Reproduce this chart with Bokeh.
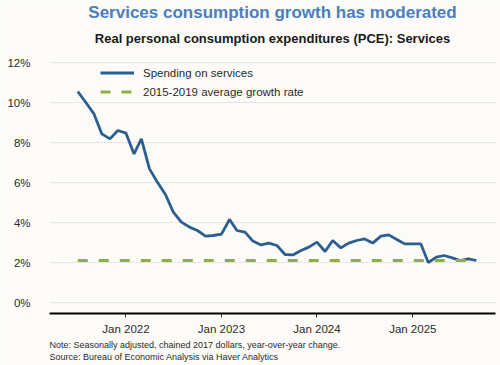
import pandas as pd
from bokeh.plotting import figure
from bokeh.models import (Range1d, FixedTicker, DatetimeTickFormatter, PrintfTickFormatter,
                          Title, Legend, LegendItem, ColumnDataSource)
from bokeh.embed import file_html
from bokeh.resources import INLINE

# ---------------- data ----------------
start_month = "2021-07-01"
services_growth = [
    10.55, 10.0, 9.43, 8.43, 8.18, 8.6,                       # 2021 Jul-Dec
    8.47, 7.43, 8.18, 6.68, 6.02, 5.4, 4.52, 4.02, 3.77, 3.6, 3.32, 3.35,   # 2022
    3.42, 4.15, 3.6, 3.52, 3.07, 2.88, 2.97, 2.85, 2.4, 2.38, 2.6, 2.77,    # 2023
    3.02, 2.55, 3.1, 2.73, 2.97, 3.1, 3.18, 2.97, 3.32, 3.38, 3.15, 2.93,   # 2024
    2.93, 2.93, 2.0, 2.27, 2.35, 2.23, 2.1, 2.18, 2.1,                     # 2025 Jan-Sep
]
avg_2015_2019 = 2.1
tick_dates = ["2022-01-01", "2023-01-01", "2024-01-01", "2025-01-01"]
y_ticks = [0, 2, 4, 6, 8, 10, 12]

title_text = "Services consumption growth has moderated"
subtitle_text = "Real personal consumption expenditures (PCE): Services"
note_lines = ["Note: Seasonally adjusted, chained 2017 dollars, year-over-year change.",
              "Source: Bureau of Economic Analysis via Haver Analytics"]
series_label = "Spending on services"
avg_label = "2015-2019 average growth rate"

dates = pd.date_range(start_month, periods=len(services_growth), freq="MS")
src = ColumnDataSource(dict(date=dates, value=services_growth,
                            avg=[avg_2015_2019] * len(services_growth)))

# ---------------- styling ----------------
BG = "#fcfbf7"
FONT = "Liberation Sans"
BLUE = "#2c5e8f"
GREEN = "#8cb043"
TITLE_BLUE = "#4a7ebd"
TXT = "#2a2a2a"

p = figure(width=500, height=365, output_backend="svg", toolbar_location=None,
           x_axis_type="datetime",
           x_range=Range1d(pd.Timestamp("2021-03-15"), pd.Timestamp("2025-11-13")),
           y_range=Range1d(-0.55, 12.1),
           min_border_left=49, min_border_right=5, min_border_top=60, min_border_bottom=52,
           background_fill_color=BG, border_fill_color=BG)
p.outline_line_color = None

r_line = p.line("date", "value", source=src, line_color=BLUE, line_width=2.8)
r_avg = p.line("date", "avg", source=src, line_color=GREEN, line_width=3, line_dash="10 11")

# axes
xa = p.xaxis[0]
xa.ticker = FixedTicker(ticks=[pd.Timestamp(d).value / 1e6 for d in tick_dates])
xa.formatter = DatetimeTickFormatter(days="%b %Y", months="%b %Y", years="%b %Y")
xa.axis_line_color = "black"
xa.axis_line_width = 2
xa.major_tick_line_color = "#333333"
xa.major_tick_in = 0
xa.major_tick_out = 4
xa.minor_tick_line_color = None
xa.major_label_text_font = FONT
xa.major_label_text_font_size = "11.5px"
xa.major_label_text_color = TXT
xa.major_label_standoff = 5

ya = p.yaxis[0]
ya.ticker = FixedTicker(ticks=y_ticks)
ya.formatter = PrintfTickFormatter(format="%d%%")
ya.axis_line_color = None
ya.major_tick_line_color = None
ya.minor_tick_line_color = None
ya.major_label_text_font = FONT
ya.major_label_text_font_size = "11.5px"
ya.major_label_text_color = TXT
ya.major_label_standoff = 13

p.xgrid.grid_line_color = None
p.ygrid.grid_line_color = "#e6e6e6"
p.ygrid.grid_line_width = 1

# legend
legend = Legend(items=[LegendItem(label=series_label, renderers=[r_line]),
                       LegendItem(label=avg_label, renderers=[r_avg])],
                location=(51, 212), orientation="vertical",
                background_fill_alpha=0, border_line_color=None,
                padding=0, margin=0, spacing=0,
                glyph_width=34, glyph_height=19, label_height=19, label_standoff=9,
                label_text_font=FONT, label_text_font_size="11.5px", label_text_color=TXT)
p.add_layout(legend)

# titles (subtitle first = nearest the frame) and notes
p.add_layout(Title(text=subtitle_text, align="center", text_font=FONT, text_font_size="13px",
                   text_font_style="bold", text_color="#1a1a1a", standoff=29), "above")
p.add_layout(Title(text=title_text, align="center", text_font=FONT, text_font_size="17px",
                   text_font_style="bold", text_color=TITLE_BLUE, standoff=-14), "above")
for line in note_lines:
    p.add_layout(Title(text=line, align="left", text_font=FONT, text_font_size="9px",
                       text_font_style="normal", text_color=TXT, standoff=0), "below")

open("out.html", "w").write(file_html(p, INLINE))
